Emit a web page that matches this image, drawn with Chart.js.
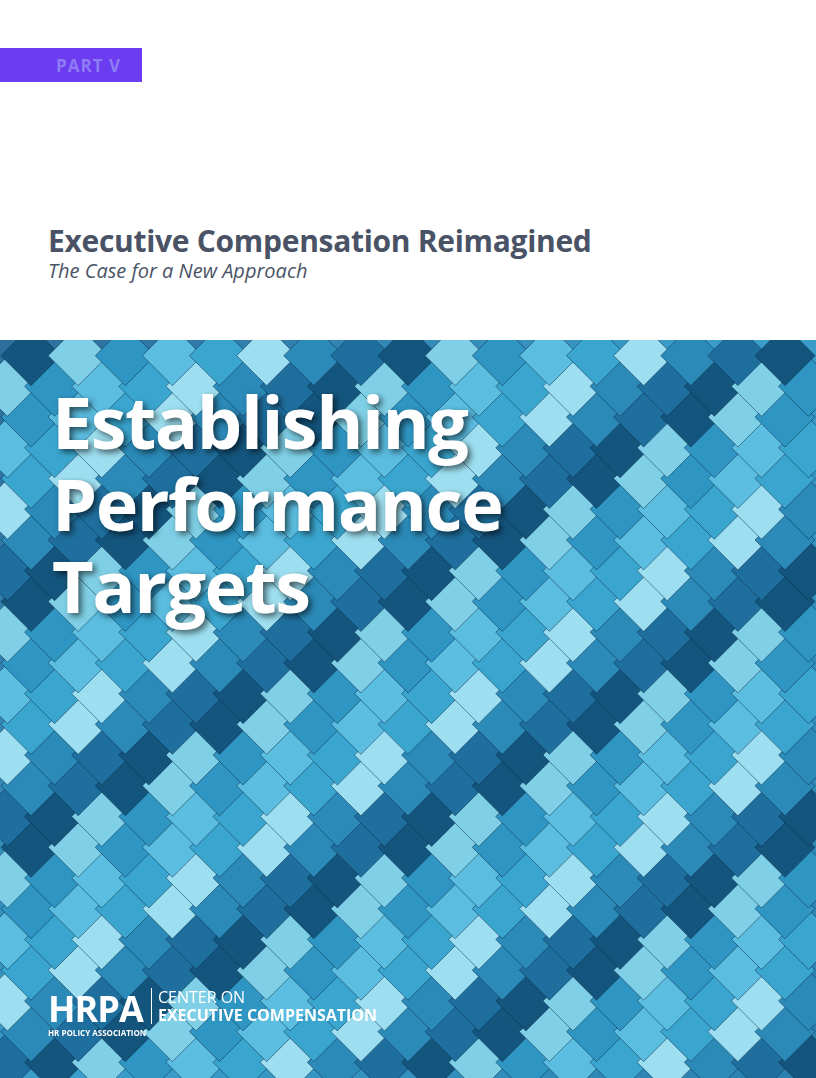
<!DOCTYPE html>
<html><head><meta charset="utf-8">
<script src="https://cdn.jsdelivr.net/npm/chart.js@4"></script>
<style>
body{margin:0;width:816px;height:1078px;position:relative;overflow:hidden;background:#fff;font-family:"Open Sans",sans-serif}
#tag{position:absolute;left:0;top:48px;width:142px;height:34px;background:#6b3cf0;color:#8f7cf5;font:bold 17px "Open Sans";letter-spacing:1px;line-height:36px;padding-left:56px;box-sizing:border-box}
#t1{position:absolute;left:48px;top:220px;font:bold 30px "Open Sans";color:#4a5366;letter-spacing:-0.3px}
#t2{position:absolute;left:48px;top:257px;font:italic 20px "Open Sans";color:#4a5366}
#img{position:absolute;left:0;top:340px;width:816px;height:738px;overflow:hidden}
#big{position:absolute;left:52px;top:380px;font:bold 72px "Open Sans";line-height:82px;color:#fff;text-shadow:3px 3px 6px rgba(0,0,0,.6);letter-spacing:-1.5px}
#logo{position:absolute;left:48px;top:984px;color:#fff}
</style></head><body>
<div id="tag">PART V</div>
<div id="t1">Executive Compensation Reimagined</div>
<div id="t2">The Case for a New Approach</div>
<div id="img"><canvas id="c" width="816" height="738"></canvas></div>
<div id="big">Establishing<br>Performance<br>Targets</div>
<div id="logo"><span style="font:bold 36px 'Open Sans';letter-spacing:-1px">HRPA</span>
<span style="display:inline-block;vertical-align:top;border-left:1px solid #fff;padding-left:6px;margin-left:4px;margin-top:4px;font:16px 'Open Sans';line-height:18px">CENTER ON<br><b>EXECUTIVE COMPENSATION</b></span>
<div style="font:bold 8px 'Open Sans';margin-top:-6px">HR POLICY ASSOCIATION</div></div>
<script>
const rows=["r1","r2","r3","r4","r5","r6","r7","r8","r9","r10","r11","r12","r13","r14","r15","r16","r17","r18","r19","r20","r21","r22","r23","r24"];
const cols=[1,2,3,4,5,6,7,8,9,10,11,12,13,14,15,16,17,18];
const shades=["#1f6f9e","#3aa6cf","#7fd0e6","#2b8ab8","#5bbde0","#14557e","#9ddff0","#2f95c2"];
const pts=[];rows.forEach((r,i)=>cols.forEach((c,j)=>pts.push({x:c+(i%2)*0.5,y:i+1,s:shades[(i*3+j*5)%8]})));
const bg={id:'bg',beforeDraw(ch){const g=ch.ctx.createLinearGradient(0,0,816,738);g.addColorStop(0,'#2c6e9c');g.addColorStop(.5,'#3a9fcc');g.addColorStop(1,'#2a7fae');ch.ctx.fillStyle=g;ch.ctx.fillRect(0,0,816,738);}};
new Chart(document.getElementById('c'),{type:'scatter',data:{datasets:[{data:pts,clip:false,pointStyle:'rectRot',pointRadius:30,backgroundColor:pts.map(p=>p.s),borderColor:'rgba(10,40,70,.5)',borderWidth:1}]},
options:{responsive:false,animation:false,layout:{padding:0},plugins:{legend:{display:false},tooltip:{enabled:false}},
scales:{x:{display:false,min:1.5,max:17.5},y:{display:false,min:1.5,max:23.5}}},plugins:[bg]});
</script></body></html>
